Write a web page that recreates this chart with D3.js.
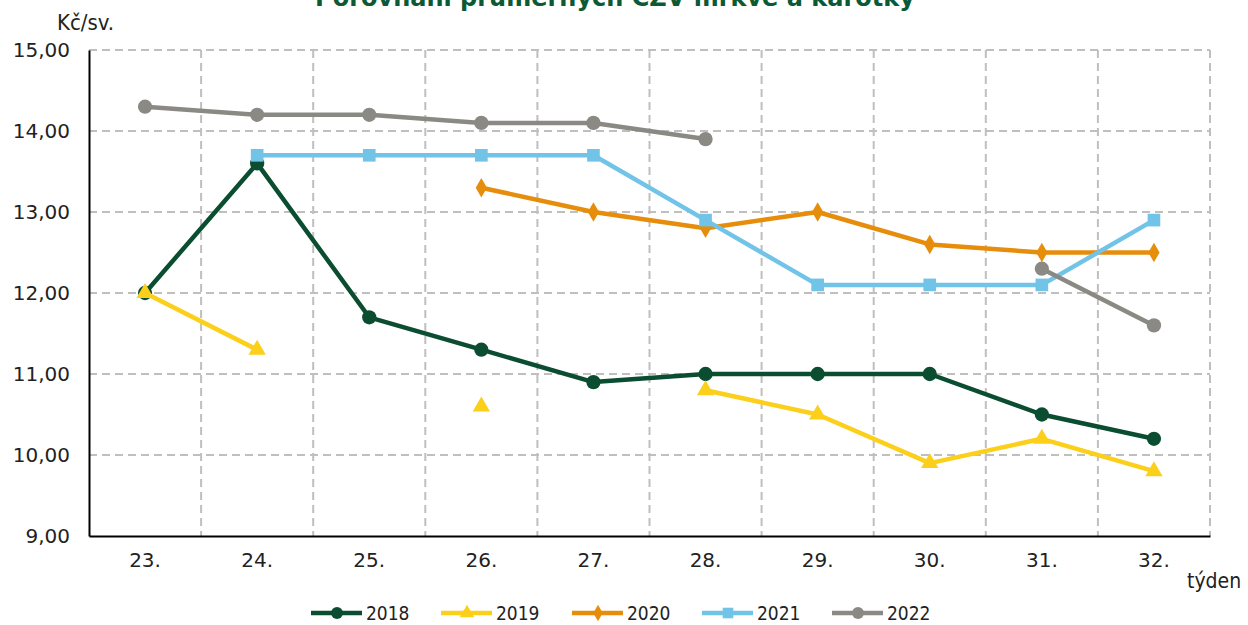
<!DOCTYPE html>
<html>
<head>
<meta charset="utf-8">
<script src="https://cdn.jsdelivr.net/npm/d3@7"></script>
<style>
  body { margin: 0; background: #fff; }
  svg { display: block; }
</style>
</head>
<body>
<div class="chart"></div>
<script>
var weeks = ['23.', '24.', '25.', '26.', '27.', '28.', '29.', '30.', '31.', '32.'];
var yTicks = [9, 10, 11, 12, 13, 14, 15];

var s2018 = [12.0, 13.6, 11.7, 11.3, 10.9, 11.0, 11.0, 11.0, 10.5, 10.2];
var s2019 = [12.0, 11.3, null, 10.6, null, 10.8, 10.5, 9.9, 10.2, 9.8];
var s2020 = [null, null, null, 13.3, 13.0, 12.8, 13.0, 12.6, 12.5, 12.5];
var s2021 = [null, 13.7, 13.7, 13.7, 13.7, 12.9, 12.1, 12.1, 12.1, 12.9];
var s2022 = [14.3, 14.2, 14.2, 14.1, 14.1, 13.9, null, null, 12.3, 11.6];

var series = [
  {name: '2018', values: s2018, color: '#0b4d31', symbol: d3.symbolCircle, size: 160},
  {name: '2019', values: s2019, color: '#fccf1a', symbol: d3.symbolTriangle, size: 130},
  {name: '2020', values: s2020, color: '#e68d0c', symbol: d3.symbolDiamond, size: 110},
  {name: '2021', values: s2021, color: '#72c3e8', symbol: d3.symbolSquare, size: 160},
  {name: '2022', values: s2022, color: '#8a8983', symbol: d3.symbolCircle, size: 160}
];

var margin = { top: 50, right: 38, bottom: 89, left: 89 };
var fullWidth = 1248;
var fullHeight = 625;
var width = fullWidth - margin.left - margin.right;
var height = fullHeight - margin.top - margin.bottom;

var root = d3.select('.chart')
  .append('svg')
  .attr('width', fullWidth)
  .attr('height', fullHeight);

// title, cut off at the top like the source image
root.append('text')
  .attr('x', 615)
  .attr('y', 6)
  .attr('text-anchor', 'middle')
  .style('font-family', 'DejaVu Sans, Verdana, sans-serif')
  .style('font-weight', 'bold')
  .style('font-size', '24px')
  .style('fill', '#0b5a35')
  .text('Porovnání průměrných CZV mrkve a karotky');

root.append('text')
  .attr('x', 57)
  .attr('y', 30)
  .style('font-family', 'DejaVu Sans Condensed, DejaVu Sans, sans-serif')
  .style('font-size', '22px')
  .style('fill', '#222')
  .text('Kč/sv.');

root.append('text')
  .attr('x', 1187)
  .attr('y', 588)
  .style('font-family', 'DejaVu Sans Condensed, DejaVu Sans, sans-serif')
  .style('font-size', '21px')
  .style('fill', '#222')
  .text('týden');

var svg = root.append('g')
  .attr('transform', 'translate(' + margin.left + ',' + margin.top + ')');

var yScale = d3.scaleLinear()
  .domain([9, 15])
  .range([height, 0]);

var xScale = d3.scaleBand()
  .domain(weeks)
  .range([0, width]);

// dashed grid
var grid = svg.append('g')
  .attr('stroke', '#bfbfbf')
  .attr('stroke-width', 2)
  .attr('stroke-dasharray', '8,5');

grid.selectAll('line.h')
  .data(yTicks.slice(1))
  .enter()
  .append('line')
  .attr('x1', 0)
  .attr('x2', width)
  .attr('y1', d => yScale(d))
  .attr('y2', d => yScale(d));

grid.selectAll('line.v')
  .data(weeks)
  .enter()
  .append('line')
  .attr('x1', d => xScale(d) + xScale.bandwidth())
  .attr('x2', d => xScale(d) + xScale.bandwidth())
  .attr('y1', 0)
  .attr('y2', height);

var yAxis = d3.axisLeft(yScale)
  .tickValues(yTicks)
  .tickSize(0)
  .tickPadding(19)
  .tickFormat(d => d3.format('.2f')(d).replace('.', ','));

svg.append('g')
  .call(yAxis)
  .call(g => g.select('.domain').attr('stroke', '#000').attr('stroke-width', 2))
  .selectAll('text')
  .style('font-family', 'DejaVu Sans, Verdana, sans-serif')
  .style('font-size', '20px')
  .style('fill', '#222');

var xAxis = d3.axisBottom(xScale)
  .tickSize(0)
  .tickPadding(17);

svg.append('g')
  .attr('transform', `translate(0, ${height})`)
  .call(xAxis)
  .call(g => g.select('.domain').attr('stroke', '#000').attr('stroke-width', 2))
  .selectAll('text')
  .style('font-family', 'DejaVu Sans, Verdana, sans-serif')
  .style('font-size', '20px')
  .style('fill', '#222');

var line = d3.line()
  .defined(d => d.v != null)
  .x(d => xScale(d.w) + xScale.bandwidth() / 2)
  .y(d => yScale(d.v));

series.forEach(function(s) {
  var pts = s.values.map((v, i) => ({w: weeks[i], v: v}));
  var g = svg.append('g');

  g.append('path')
    .datum(pts)
    .attr('fill', 'none')
    .attr('stroke', s.color)
    .attr('stroke-width', 4.5)
    .attr('stroke-linejoin', 'round')
    .attr('d', line);

  g.selectAll('path.mark')
    .data(pts.filter(d => d.v != null))
    .enter()
    .append('path')
    .attr('class', 'mark')
    .attr('fill', s.color)
    .attr('transform', d => 'translate(' + (xScale(d.w) + xScale.bandwidth() / 2) + ',' + yScale(d.v) + ')')
    .attr('d', d3.symbol().type(s.symbol).size(s.size));
});

// legend
var legendX = [311, 441, 572, 702, 832];
var legend = root.append('g')
  .attr('transform', 'translate(0, 613)');

var item = legend.selectAll('g')
  .data(series)
  .enter()
  .append('g')
  .attr('transform', (d, i) => 'translate(' + legendX[i] + ',0)');

item.append('line')
  .attr('x1', 0)
  .attr('x2', 51)
  .attr('stroke', d => d.color)
  .attr('stroke-width', 4.5);

item.append('path')
  .attr('transform', 'translate(26,0)')
  .attr('fill', d => d.color)
  .attr('d', d => d3.symbol().type(d.symbol).size(d.size * 0.7)());

item.append('text')
  .attr('x', 55)
  .attr('y', 7)
  .style('font-family', 'DejaVu Sans Condensed, DejaVu Sans, sans-serif')
  .style('font-size', '19px')
  .style('fill', '#222')
  .text(d => d.name);
</script>
</body>
</html>
